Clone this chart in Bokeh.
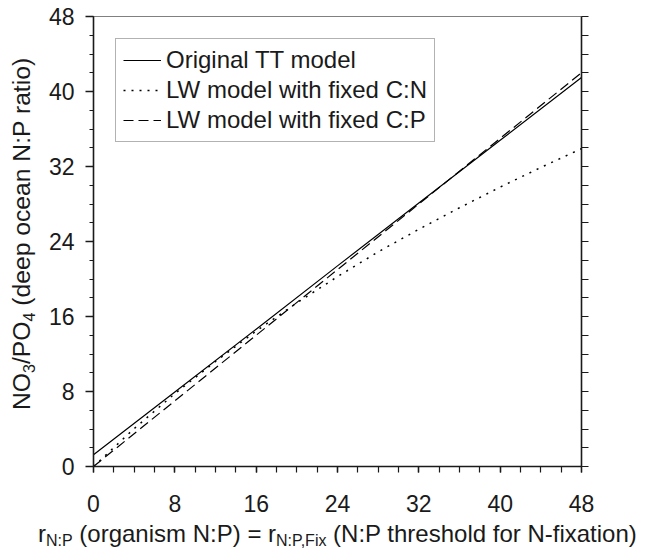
from bokeh.plotting import figure
from bokeh.models import Range1d, FixedTicker, LinearAxis, Legend, LegendItem, Div
from bokeh.layouts import row, column
from bokeh.embed import file_html
from bokeh.resources import INLINE

# ---- data ----
major_ticks = [0, 8, 16, 24, 32, 40, 48]
minor_ticks = [0, 2, 4, 6, 8, 10, 12, 14, 16, 18, 20, 22, 24, 26, 28, 30, 32, 34, 36, 38, 40, 42, 44, 46, 48]
x_lin = [0, 8, 16, 24, 32, 40, 48]
tt_model = [1.25, 7.95, 14.65, 21.4, 28.1, 34.8, 41.5]
lw_fixed_cp = [0.0, 7.0, 14.0, 21.0, 28.0, 35.0, 42.0]
x_curve = [0, 4, 8, 12, 16, 20, 24, 28, 32, 36, 40, 44, 48]
lw_fixed_cn = [0.0, 4.04, 7.77, 11.2, 14.45, 17.45, 20.25, 22.9, 25.3, 27.6, 29.8, 31.9, 33.9]
legend_labels = ["Original TT model", "LW model with fixed C:N", "LW model with fixed C:P"]
# axis titles: (text, is_subscript)
x_title = [("r", False), ("N:P", True), (" (organism N:P) = r", False),
           ("N:P,Fix", True), (" (N:P threshold for N-fixation)", False)]
y_title = [("NO", False), ("3", True), ("/PO", False), ("4", True),
           (" (deep ocean N:P ratio)", False)]

FONT = "Liberation Sans"
INK = "#1a1a1a"
YLAB_W = 44
TOP_H = 522

p = figure(width=650 - YLAB_W, height=TOP_H, x_range=Range1d(0, 48), y_range=Range1d(0, 48),
           output_backend="svg", toolbar_location=None,
           min_border_left=49, min_border_right=69, min_border_top=16, min_border_bottom=56)
p.grid.visible = False
p.outline_line_color = "#808080"
p.outline_line_width = 1
p.background_fill_color = "white"
p.border_fill_color = "white"

r_tt = p.line(x_lin, tt_model, line_color="black", line_width=1.2)
r_cn = p.line(x_curve, lw_fixed_cn, line_color="black", line_width=1.5, line_dash="2 6")
r_cp = p.line(x_lin, lw_fixed_cp, line_color="black", line_width=1.2, line_dash="10 5")

for ax in (p.xaxis[0], p.yaxis[0]):
    ax.ticker = FixedTicker(ticks=major_ticks, minor_ticks=minor_ticks)
    ax.axis_line_color = INK
    ax.axis_line_width = 1.6
    ax.major_tick_line_color = INK
    ax.minor_tick_line_color = INK
    ax.major_tick_line_width = 1.4
    ax.minor_tick_line_width = 1.2
    ax.major_tick_in = 0
    ax.minor_tick_in = 0
    ax.major_label_text_font = FONT
    ax.major_label_text_font_size = "23px"
    ax.major_label_text_color = INK

p.xaxis.major_tick_out = 6
p.xaxis.minor_tick_out = 6
p.xaxis.major_label_standoff = 22
p.yaxis.major_tick_out = 8
p.yaxis.minor_tick_out = 4
p.yaxis.major_label_standoff = 11

right = LinearAxis(ticker=FixedTicker(ticks=minor_ticks, minor_ticks=[]),
                   major_label_overrides={t: "" for t in minor_ticks},
                   major_tick_out=7, major_tick_in=0, minor_tick_out=0,
                   axis_line_color=INK, axis_line_width=1.6,
                   major_tick_line_color=INK, major_tick_line_width=1.2)
p.add_layout(right, "right")

legend = Legend(items=[LegendItem(label=legend_labels[0], renderers=[r_tt]),
                       LegendItem(label=legend_labels[1], renderers=[r_cn]),
                       LegendItem(label=legend_labels[2], renderers=[r_cp])],
                location="top_left", margin=22, padding=7, spacing=2,
                glyph_width=38, glyph_height=26, label_height=26, label_standoff=5,
                label_text_font=FONT, label_text_font_size="24px", label_text_color=INK,
                border_line_color="#666666", border_line_width=1,
                background_fill_color="white", background_fill_alpha=1.0)
p.add_layout(legend)


def title_html(pieces, sub_shift):
    out = []
    for txt, sub in pieces:
        if sub:
            out.append(f'<span style="font-size:16px;line-height:24px;vertical-align:-{sub_shift}px">{txt}</span>')
        else:
            out.append(txt)
    return "".join(out)


def text_css(size):
    return (f"white-space:nowrap;font-family:'{FONT}';font-size:{size}px;line-height:24px;"
            f"color:{INK};margin:0;padding:0;")


y_html = (f'<div style="position:relative;width:{YLAB_W}px;height:{TOP_H}px;margin:0;padding:0;">'
          f'<div style="position:absolute;left:10px;top:410px;transform-origin:0 0;'
          f'transform:rotate(-90deg);{text_css(24.7)}">{title_html(y_title, 5)}</div></div>')
x_html = (f'<div style="position:relative;width:650px;height:{555 - TOP_H}px;margin:0;padding:0;">'
          f'<div style="position:absolute;left:38px;top:0px;{text_css(24)}">{title_html(x_title, 4)}</div></div>')

ylab = Div(text=y_html, width=YLAB_W, height=TOP_H, styles={"margin": "0", "padding": "0"})
xlab = Div(text=x_html, width=650, height=555 - TOP_H, styles={"margin": "0", "padding": "0"})

layout = column(row(ylab, p, spacing=0), xlab, spacing=0)

open("out.html", "w").write(file_html(layout, INLINE))
